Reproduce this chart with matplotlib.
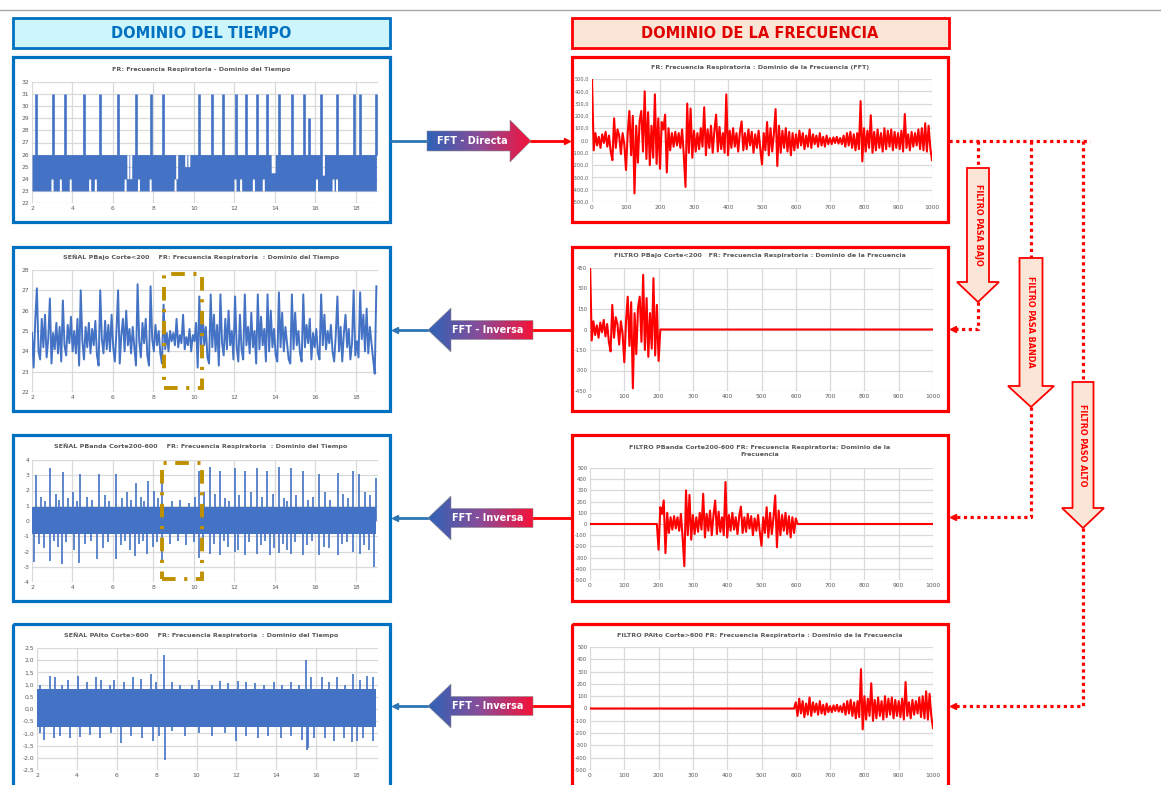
import numpy as np
import matplotlib
matplotlib.use('Agg')
import matplotlib.pyplot as plt
from matplotlib.patches import Rectangle, Polygon
from matplotlib.colors import LinearSegmentedColormap

plt.rcParams['font.family'] = ['DejaVu Sans']

W, H = 1161, 785
AZUL = '#0070C0'
ROJO = '#FF0000'
LINEA = '#4472C4'
GRIS = '#595959'
REJILLA = '#D9D9D9'
ORO = '#BF9000'

# ---------------- datos ----------------
# FR dominio del tiempo (senal original): banda 23-26 con picos
tl_banda = [23, 26]
tl_pico_t = [2.2, 3.02, 3.61, 4.55, 5.34, 6.23, 7.15, 7.87, 8.46, 10.27,
             10.89, 11.46, 12.07, 12.56, 13.1, 13.6, 14.22, 14.85, 15.44, 15.67,
             16.28, 17.08, 17.9, 18.2, 19.02]
tl_pico_v = [31, 31, 31, 31, 31, 31, 31, 31, 31, 31,
             31, 31, 31, 31, 31, 31, 31, 31, 31, 29,
             31, 31, 31, 31, 31]
tl_min_t = [2.99, 3.4, 3.89, 4.85, 5.13, 6.6, 7.26, 7.84, 9.07, 12.03,
            12.31, 12.94, 13.43, 16.06, 16.88, 17.05]
tl_min_v = [24, 24, 24, 24, 24, 24, 24, 24, 24, 24, 24, 24, 24, 24, 24, 24]
tl_max_t = [6.74, 6.88, 9.15, 9.6, 9.75, 13.87, 13.97, 16.4]
tl_max_v = [24, 24, 24, 25, 25, 24.5, 24.5, 24.3]

# FFT de la FR (0..1000, cada 5)
fft_v = [500, -80, 60, -40, 30, -60, 50, -20, 70, -50, 40, -90, -160, 180, -60, 90, 40, -110, 60, -30,
         -240, 60, 240, -120, 200, -430, 120, -180, 160, 240, -90, 400, -150, 230, -200, 120, -140, 375, -190, 180,
         -230, 150, 90, 210, -260, 100, -80, 60, -50, 70, -40, 60, -60, 90, -120, -377, 300, -100, 260, -140,
         80, -90, 60, -70, 100, -50, 270, -120, 90, -60, 120, -100, 80, 210, -90, 110, -70, 60, -100, 375,
         -120, 80, -60, 100, -50, 60, -90, 70, 155, -80, 60, -70, 90, -40, 70, -100, 50, -60, 80, -70,
         -195, 60, -80, 150, -120, 100, -90, 60, 255, -207, 120, -100, 80, -60, 100, -90, 70, -120, 60, -80,
         50, -60, 80, -40, 60, -70, 40, -50, 90, -60, 50, -30, 40, -50, 60, -40, 30, -50, 40, -30,
         20, -30, 25, -20, 30, -25, 20, -30, 40, -50, 60, -40, 70, -60, 50, -80, 60, -70, 320, -170,
         100, -90, 80, -60, 205, -100, 70, -80, 90, -60, 60, -90, 100, -70, 80, -50, 90, -80, 70, -60,
         60, -70, 80, -90, 215, -60, 50, -80, 70, -50, 60, -40, 90, -70, 100, -80, 140, -90, 120, -60, -160]
cortes = [200, 600]

# Senal paso bajo (2 .. 19 s)
pb_v = [24.9, 23.2, 25.5, 27.1, 24.0, 23.6, 25.6, 24.2, 25.8, 23.7,
        24.6, 26.6, 23.4, 24.9, 24.1, 25.4, 23.9, 25.2, 23.5, 26.5,
        24.3, 23.8, 25.3, 24.4, 25.7, 24.0, 25.0, 23.9, 25.6, 23.3,
        27.0, 24.5, 23.6, 25.2, 24.2, 25.4, 23.9, 25.1, 24.3, 25.5,
        23.8, 23.3, 27.0, 24.6, 23.9, 25.5, 24.1, 25.3, 24.0, 25.8,
        24.2, 23.5, 25.0, 27.0, 23.4, 24.8, 25.6, 24.0, 26.0, 24.3,
        25.1, 23.9, 25.2, 24.2, 23.3, 27.3, 24.5, 23.7, 25.4, 24.4,
        25.6, 23.8, 23.3, 27.2, 24.6, 24.0, 25.3, 24.3, 25.0, 23.9,
        23.4, 26.3, 24.1, 24.9, 24.0, 25.0, 24.5, 24.9, 24.3, 25.6,
        24.2, 24.8, 24.4, 25.8, 24.1, 24.7, 24.3, 25.1, 24.0, 24.8,
        24.5, 25.4, 23.2, 26.7, 24.0, 25.9, 24.3, 25.2, 23.7, 23.4,
        26.8, 24.2, 25.8, 24.0, 25.3, 23.3, 26.8, 24.4, 23.8, 25.6,
        24.1, 26.0, 24.3, 25.0, 23.6, 26.7, 24.2, 23.5, 25.8, 24.1,
        23.6, 26.8, 24.3, 25.2, 23.9, 25.9, 24.2, 25.0, 23.4, 26.8,
        24.1, 25.7, 24.3, 25.1, 23.5, 26.8, 24.0, 26.0, 24.2, 25.1,
        23.8, 23.5, 26.9, 24.2, 25.9, 24.0, 25.2, 24.4, 23.6, 23.4,
        26.8, 24.1, 25.9, 24.3, 25.0, 23.9, 23.5, 26.8, 24.2, 25.3,
        24.4, 25.6, 23.6, 24.9, 24.2, 25.1, 23.9, 23.6, 26.8, 24.3,
        25.8, 24.1, 25.0, 24.4, 25.3, 24.0, 23.5, 24.8, 26.7, 24.0,
        25.2, 23.5, 24.9, 25.8, 24.2, 25.1, 23.6, 24.4, 27.0, 23.8,
        24.5, 23.7, 26.9, 24.6, 25.8, 24.0, 26.1, 23.9, 25.2, 24.4,
        23.6, 22.9, 27.2]

# Senal pasa banda: nucleo + picos
pba_nucleo = [-0.85, 0.9]
pba_sup_t = [2.2, 2.9, 3.51, 4.38, 5.33, 6.14, 7.12, 7.73, 8.44, 10.26,
             10.79, 11.31, 12.02, 12.51, 13.13, 13.63, 14.2, 14.78, 15.38, 16.2,
             17.11, 17.88, 18.14, 18.99,
             2.45, 2.65, 3.2, 3.35, 3.8, 4.05, 4.2, 4.7, 4.95, 5.6,
             5.8, 6.45, 6.7, 6.9, 7.4, 7.55, 8.05, 8.25, 8.9, 9.3,
             9.75, 10.05, 10.5, 11.05, 11.55, 11.75, 12.25, 12.8, 13.35, 13.9,
             14.45, 14.6, 15.05, 15.65, 15.9, 16.5, 16.75, 17.35, 17.6, 18.45, 18.7]
pba_sup_v = [3.0, 3.5, 3.2, 3.1, 3.1, 3.1, 2.5, 2.6, 2.7, 3.3,
             3.55, 3.3, 3.5, 3.3, 3.5, 3.3, 3.55, 3.5, 3.3, 3.1,
             3.15, 3.3, 3.1, 2.8,
             1.6, 1.3, 1.8, 1.4, 1.5, 1.9, 1.3, 1.6, 1.4, 1.7,
             1.3, 1.5, 1.9, 1.4, 1.6, 1.3, 2.0, 1.5, 1.3, 1.4,
             1.2, 1.6, 1.9, 1.8, 1.5, 1.3, 1.7, 1.9, 1.6, 1.8,
             1.5, 1.3, 1.7, 1.4, 1.6, 1.9, 1.4, 1.8, 1.5, 1.9, 1.7]
pba_inf_t = [2.12, 2.9, 3.5, 4.32, 5.2, 6.14, 7.08, 7.66, 8.44, 10.26,
             10.79, 11.31, 12.02, 12.51, 13.13, 13.75, 14.2, 14.78, 15.38, 16.2,
             17.11, 17.88, 18.22, 18.9,
             2.35, 2.6, 3.1, 3.3, 3.7, 4.1, 4.6, 4.9, 5.5, 5.75,
             6.4, 6.6, 6.85, 7.3, 7.5, 8.0, 8.2, 8.8, 9.2, 9.6,
             10.0, 10.45, 11.0, 11.5, 11.7, 12.2, 12.7, 13.3, 13.5, 13.95,
             14.4, 14.6, 15.0, 15.6, 15.85, 16.45, 16.7, 17.3, 17.55, 18.4, 18.65]
pba_inf_v = [-2.7, -2.6, -2.8, -2.75, -2.5, -2.5, -2.3, -2.15, -2.7, -2.4,
             -2.15, -2.25, -2.05, -2.2, -2.15, -2.2, -2.1, -2.15, -2.2, -2.2,
             -2.2, -2.05, -2.15, -3.0,
             -1.5, -1.8, -1.3, -1.7, -1.4, -1.9, -1.5, -1.3, -1.8, -1.4,
             -1.6, -1.3, -1.9, -1.5, -1.3, -1.7, -1.4, -1.5, -1.3, -1.6,
             -1.4, -1.8, -1.5, -1.3, -1.7, -1.9, -1.4, -1.6, -1.3, -1.8,
             -1.5, -1.9, -1.4, -1.6, -1.3, -1.7, -1.8, -1.5, -1.4, -1.6, -1.9]

# Senal paso alto: nucleo + picos
pa_nucleo = [-0.72, 0.82]
pa_sup_t = [8.36, 15.47,
            2.17, 2.66, 2.91, 3.24, 3.57, 4.07, 4.51, 4.98, 5.22, 5.64,
            5.88, 6.38, 6.79, 7.21, 7.7, 7.98, 8.78, 9.19, 9.77, 10.1,
            10.76, 11.17, 11.59, 12.08, 12.5, 12.91, 13.4, 13.9, 14.31, 14.73,
            15.14, 15.72, 16.3, 16.63, 17.04, 17.45, 17.87, 18.2, 18.53, 18.86]
pa_sup_v = [2.2, 2.0,
            1.0, 1.35, 1.3, 1.0, 1.2, 1.35, 1.1, 1.3, 1.2, 1.0,
            1.2, 1.1, 1.3, 1.25, 1.45, 1.1, 1.1, 1.0, 1.0, 1.2,
            1.0, 1.15, 1.05, 1.15, 1.1, 1.05, 1.0, 1.1, 1.0, 1.1,
            1.0, 1.3, 1.3, 1.1, 1.3, 1.0, 1.45, 1.2, 1.35, 1.3]
pa_inf_t = [8.4, 15.52, 15.58,
            2.13, 2.33, 2.83, 3.16, 3.65, 4.15, 4.64, 5.14, 5.72, 6.21,
            6.71, 7.29, 7.82, 8.12, 8.78, 9.44, 10.1, 10.76, 11.42, 12.0,
            12.5, 13.07, 13.57, 14.23, 14.73, 15.31, 15.88, 16.46, 16.88, 17.37,
            17.79, 18.03, 18.36, 18.86]
pa_inf_v = [-2.1, -1.7, -1.6,
            -1.0, -1.25, -1.2, -1.1, -1.2, -1.15, -1.05, -1.2, -1.0, -1.4,
            -1.1, -1.2, -1.3, -1.1, -0.9, -1.1, -1.0, -1.1, -1.0, -1.3,
            -1.1, -1.2, -1.1, -1.2, -1.1, -1.25, -1.2, -1.2, -1.3, -1.2,
            -1.35, -1.3, -1.2, -1.3]

# zonas marcadas (t0, t1, y0, y1)
zona_pb = [8.5, 10.4, 22.2, 27.8]
zona_pba = [8.42, 10.38, -3.8, 3.8]

titulos = {
    'tl': 'FR: Frecuencia Respiratoria - Dominio del Tiempo',
    'tr': 'FR: Frecuencia Respiratoria : Dominio de la Frecuencia (FFT)',
    'l2': 'SEÑAL PBajo Corte<200    FR: Frecuencia Respiratoria  : Dominio del Tiempo',
    'r2': 'FILTRO PBajo Corte<200   FR: Frecuencia Respiratoria : Dominio de la Frecuencia',
    'l3': 'SEÑAL PBanda Corte200-600    FR: Frecuencia Respiratoria  : Dominio del Tiempo',
    'r3': 'FILTRO PBanda Corte200-600 FR: Frecuencia Respiratoria: Dominio de la\nFrecuencia',
    'l4': 'SEÑAL PAlto Corte>600    FR: Frecuencia Respiratoria  : Dominio del Tiempo',
    'r4': 'FILTRO PAlto Corte>600 FR: Frecuencia Respiratoria : Dominio de la Frecuencia',
}

frec = np.linspace(0, 1000, len(fft_v))
fft_v = np.array(fft_v, dtype=float)
t_pb = np.linspace(2.0, 19.02, len(pb_v))

# ---------------- figura ----------------
fig = plt.figure(figsize=(W / 100, H / 100), dpi=100)
ov = fig.add_axes([0, 0, 1, 1])
ov.axis('off')


def caja(x0, y0, x1, y1):
    return [x0 / W, 1 - y1 / H, (x1 - x0) / W, (y1 - y0) / H]


def coma(dec):
    return lambda v: f'{v:.{dec}f}'.replace('.', ',')


def estilo(ax, xlim, xticks, ylim, yticks, yfmt, ysize=4.3):
    ax.set_xlim(*xlim)
    ax.set_ylim(*ylim)
    ax.set_xticks(xticks)
    ax.set_xticklabels([f'{v:g}' for v in xticks])
    ax.set_yticks(yticks)
    ax.set_yticklabels([yfmt(v) for v in yticks])
    ax.grid(True, color=REJILLA, lw=0.9)
    ax.set_axisbelow(True)
    for s in ax.spines.values():
        s.set_visible(False)
    ax.tick_params(length=0, labelsize=4.3, colors=GRIS, pad=2)
    ax.tick_params(axis='y', labelsize=ysize)


t_ticks = [2, 4, 6, 8, 10, 12, 14, 16, 18]
f_ticks = list(range(0, 1001, 100))
t_lim = (2, 19.1)
LW_F = 1.5

# --- fila 1 izquierda: senal original
ax = fig.add_axes(caja(32, 82, 378, 203))
tt = np.linspace(2.0, 19.02, 4000)
lo = np.full_like(tt, tl_banda[0], dtype=float)
hi = np.full_like(tt, tl_banda[1], dtype=float)
for t, v in zip(tl_min_t, tl_min_v):
    lo[np.abs(tt - t) < 0.05] = v
for t, v in zip(tl_max_t, tl_max_v):
    hi[np.abs(tt - t) < 0.05] = v
ax.fill_between(tt, lo, hi, color=LINEA, lw=0)
ax.vlines(tl_pico_t, tl_banda[1], tl_pico_v, color=LINEA, lw=1.9)
estilo(ax, t_lim, t_ticks, (22, 32), list(range(22, 33)), lambda v: f'{v:g}')

# --- fila 1 derecha: FFT
ax = fig.add_axes(caja(592, 79, 932, 202))
ax.plot(frec, fft_v, color=ROJO, lw=LW_F)
estilo(ax, (0, 1000), f_ticks, (-500, 500), list(range(-500, 501, 100)), coma(1), ysize=3.6)

# --- fila 2 izquierda: paso bajo
ax = fig.add_axes(caja(32, 270, 378, 392))
ax.plot(t_pb, pb_v, color=LINEA, lw=1.4)
ax.add_patch(Rectangle((zona_pb[0], zona_pb[2]), zona_pb[1] - zona_pb[0], zona_pb[3] - zona_pb[2],
                       fill=False, edgecolor=ORO, lw=2.8, linestyle=(0, (3.5, 2.2, 0.8, 2.2)), zorder=5))
estilo(ax, t_lim, t_ticks, (22, 28), list(range(22, 29)), lambda v: f'{v:g}')

# --- fila 2 derecha: filtro paso bajo
ax = fig.add_axes(caja(590, 268, 933, 391))
ax.plot(frec, np.where(frec <= cortes[0], fft_v, 0), color=ROJO, lw=LW_F)
estilo(ax, (0, 1000), f_ticks, (-450, 450), list(range(-450, 451, 150)), lambda v: f'{v:g}', ysize=3.8)

# --- fila 3 izquierda: pasa banda
ax = fig.add_axes(caja(32, 460, 378, 582))
ax.fill_between([2.0, 19.0], pba_nucleo[0], pba_nucleo[1], color=LINEA, lw=0)
ax.vlines(pba_sup_t, 0, pba_sup_v, color=LINEA, lw=1.2)
ax.vlines(pba_inf_t, 0, pba_inf_v, color=LINEA, lw=1.2)
ax.add_patch(Rectangle((zona_pba[0], zona_pba[2]), zona_pba[1] - zona_pba[0], zona_pba[3] - zona_pba[2],
                       fill=False, edgecolor=ORO, lw=2.8, linestyle=(0, (3.5, 2.2, 0.8, 2.2)), zorder=5))
estilo(ax, t_lim, t_ticks, (-4, 4), list(range(-4, 5)), lambda v: f'{v:g}')

# --- fila 3 derecha: filtro pasa banda
ax = fig.add_axes(caja(590, 468, 933, 580))
banda = (frec >= cortes[0]) & (frec <= cortes[1])
ax.plot(frec, np.where(banda, fft_v, 0), color=ROJO, lw=LW_F)
estilo(ax, (0, 1000), f_ticks, (-500, 500), list(range(-500, 501, 100)), lambda v: f'{v:g}', ysize=3.8)

# --- fila 4 izquierda: paso alto
ax = fig.add_axes(caja(37, 648, 378, 770))
ax.fill_between([2.0, 19.0], pa_nucleo[0], pa_nucleo[1], color=LINEA, lw=0)
ax.vlines(pa_sup_t, 0, pa_sup_v, color=LINEA, lw=1.2)
ax.vlines(pa_inf_t, 0, pa_inf_v, color=LINEA, lw=1.2)
estilo(ax, t_lim, t_ticks, (-2.5, 2.5), [-2.5, -2, -1.5, -1, -0.5, 0, 0.5, 1, 1.5, 2, 2.5], coma(1))

# --- fila 4 derecha: filtro paso alto
ax = fig.add_axes(caja(590, 647, 933, 770))
ax.plot(frec, np.where(frec >= cortes[1], fft_v, 0), color=ROJO, lw=LW_F)
estilo(ax, (0, 1000), f_ticks, (-500, 500), list(range(-500, 501, 100)), lambda v: f'{v:g}', ysize=3.8)

# ---------------- marcos, titulos y flechas (en pixeles) ----------------
ov.plot([0, W], [10, 10], color='#A6A6A6', lw=1)

for x0, col, fondo, txt in [(13, AZUL, '#CCF6FC', 'DOMINIO DEL TIEMPO'),
                            (572, ROJO, '#FBE5D6', 'DOMINIO DE LA FRECUENCIA')]:
    ov.add_patch(Rectangle((x0, 18), 377, 30, facecolor=fondo, edgecolor=col, lw=2))
    ov.text(x0 + 188, 33, txt, color=col if col == AZUL else '#E00000', fontsize=10.5,
            fontweight='bold', ha='center', va='center')

filas = [(57, 222), (247, 411), (435, 601), (624, 800)]
tit_y = [(70, 67), (257, 256), (446, 451), (635, 635)]
claves = [('tl', 'tr'), ('l2', 'r2'), ('l3', 'r3'), ('l4', 'r4')]
for (y0, y1), (ty_l, ty_r), (kl, kr) in zip(filas, tit_y, claves):
    ov.add_patch(Rectangle((13, y0), 377, y1 - y0, fill=False, edgecolor=AZUL, lw=2.3))
    ov.add_patch(Rectangle((572, y0), 376, y1 - y0, fill=False, edgecolor=ROJO, lw=2.3))
    ov.text(201, ty_l, titulos[kl], color=GRIS, fontsize=4.6, fontweight='bold', ha='center', va='center')
    ov.text(760, ty_r, titulos[kr], color=GRIS, fontsize=4.6, fontweight='bold', ha='center', va='center',
            linespacing=1.5)

cmap_fft = LinearSegmentedColormap.from_list('fft', ['#2E63B8', '#8A4C98', '#F5123A'])


def flecha_fft(verts, texto, xt, yt):
    xs = [v[0] for v in verts]
    ys = [v[1] for v in verts]
    poly = Polygon(verts, closed=True, facecolor='none', edgecolor='#8C8C8C', lw=0.4, zorder=3)
    ov.add_patch(poly)
    im = ov.imshow(np.linspace(0, 1, 256)[None, :], cmap=cmap_fft, aspect='auto',
                   extent=[min(xs), max(xs), max(ys), min(ys)], zorder=2)
    im.set_clip_path(poly)
    ov.text(xt, yt, texto, color='white', fontsize=7, fontweight='bold', ha='center', va='center', zorder=4)


# FFT directa
c = 141
flecha_fft([(427, c - 10), (510, c - 10), (510, c - 21), (531, c), (510, c + 21), (510, c + 10), (427, c + 10)],
           'FFT - Directa', 472, c)
ov.plot([391, 427], [c, c], color='#2E75B6', lw=2)
ov.plot([531, 566], [c, c], color=ROJO, lw=2)
ov.plot([567], [c], marker='>', ms=5, color=ROJO)

# FFT inversas
for c in [330, 518, 706]:
    flecha_fft([(533, c - 9.5), (451, c - 9.5), (451, c - 22), (428, c), (451, c + 22), (451, c + 9.5),
                (533, c + 9.5)], 'FFT - Inversa', 488, c)
    ov.plot([533, 572], [c, c], color=ROJO, lw=2)
    ov.plot([395, 428], [c, c], color='#2E75B6', lw=2)
    ov.plot([395], [c], marker='<', ms=5, color='#2E75B6')

# conexiones de filtros (lineas de puntos)
pts = dict(color=ROJO, lw=2.3, linestyle=(0, (1, 1.1)))
ov.plot([949, 1090], [141, 141], **pts)
filtros = [(978, 168, 282, 302, 11, 21, 329, 'FILTRO PASA BAJO'),
           (1031, 258, 386, 407, 11.5, 23, 517, 'FILTRO PASA BANDA'),
           (1083, 382, 508, 528, 10.5, 21, 706, 'FILTRO PASO ALTO')]
for xc, y0, yb, yt, hb, hh, ysal, txt in filtros:
    ov.plot([xc, xc], [141, y0], **pts)
    ov.plot([xc, xc, 956], [yt, ysal, ysal], **pts)
    ov.plot([953], [ysal], marker='<', ms=5, color=ROJO)
    ov.add_patch(Polygon([(xc - hb, y0), (xc + hb, y0), (xc + hb, yb), (xc + hh, yb), (xc, yt),
                          (xc - hh, yb), (xc - hb, yb)], closed=True, facecolor='#FBE5D6',
                         edgecolor=ROJO, lw=1.3, zorder=3))
    ov.text(xc, (y0 + yb) / 2, txt, rotation=-90, color=ROJO, fontsize=5.8, fontweight='bold',
            ha='center', va='center', zorder=4)

ov.set_xlim(0, W)
ov.set_ylim(H, 0)

fig.savefig('out.png', dpi=100)
